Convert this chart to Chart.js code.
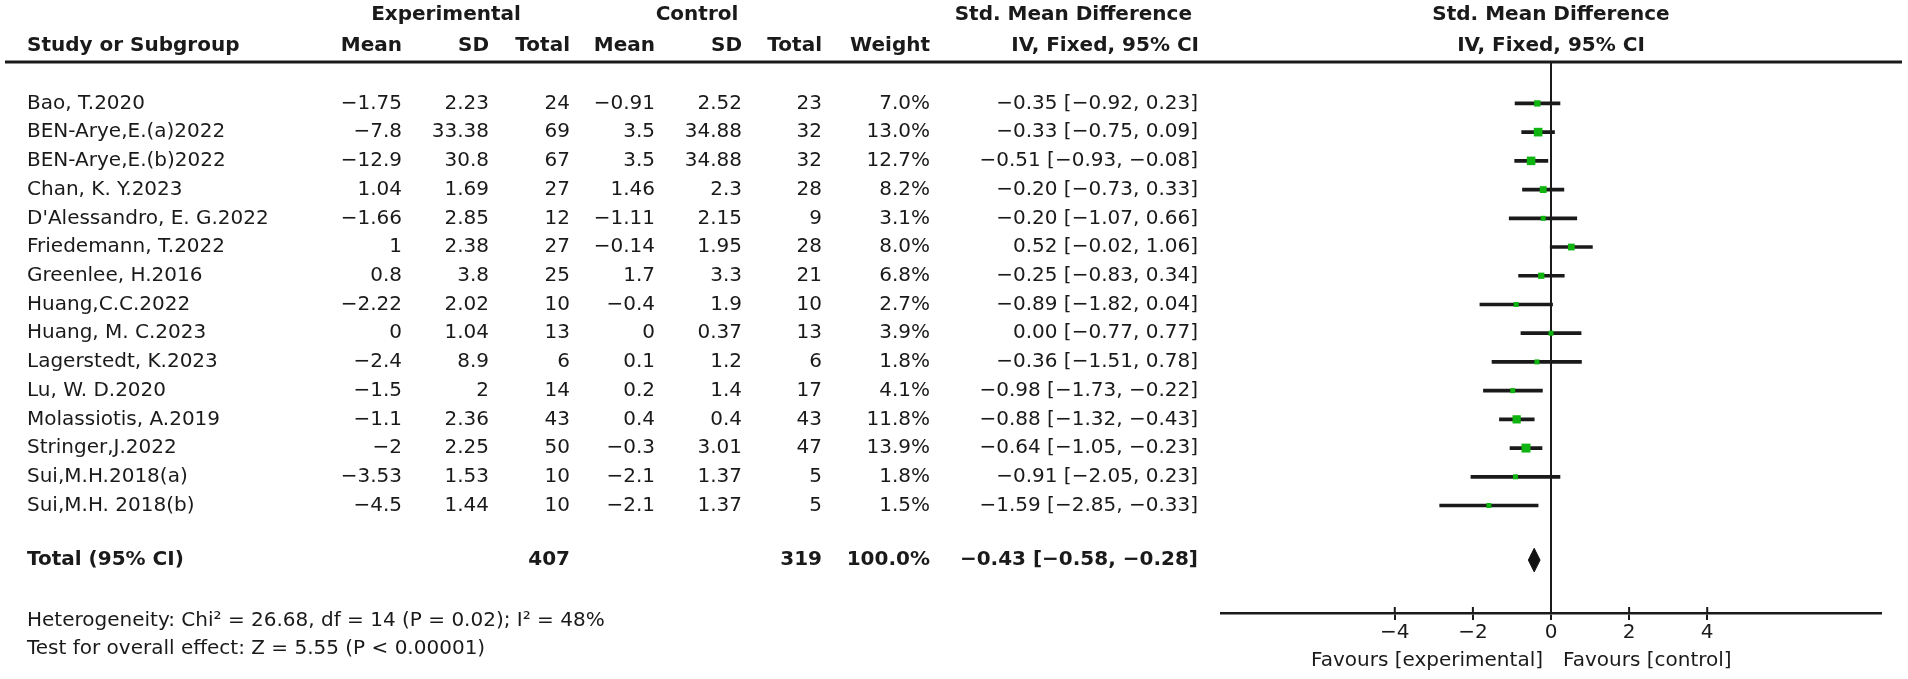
<!DOCTYPE html>
<html>
<head>
<meta charset="utf-8">
<script src="https://cdn.jsdelivr.net/npm/chart.js@4.4.1/dist/chart.umd.min.js"></script>
<style>
html,body{margin:0;padding:0;background:#fff;}
#wrap{width:1908px;height:679px;position:relative;}
</style>
</head>
<body>
<div id="wrap"><canvas id="c" width="1908" height="679"></canvas></div>
<script>
// ---- data ----
const studies = ["Bao, T.2020","BEN-Arye,E.(a)2022","BEN-Arye,E.(b)2022","Chan, K. Y.2023","D'Alessandro, E. G.2022","Friedemann, T.2022","Greenlee, H.2016","Huang,C.C.2022","Huang, M. C.2023","Lagerstedt, K.2023","Lu, W. D.2020","Molassiotis, A.2019","Stringer,J.2022","Sui,M.H.2018(a)","Sui,M.H. 2018(b)"];
const expMean = [-1.75,-7.8,-12.9,1.04,-1.66,1,0.8,-2.22,0,-2.4,-1.5,-1.1,-2,-3.53,-4.5];
const expSD   = [2.23,33.38,30.8,1.69,2.85,2.38,3.8,2.02,1.04,8.9,2,2.36,2.25,1.53,1.44];
const expN    = [24,69,67,27,12,27,25,10,13,6,14,43,50,10,10];
const ctlMean = [-0.91,3.5,3.5,1.46,-1.11,-0.14,1.7,-0.4,0,0.1,0.2,0.4,-0.3,-2.1,-2.1];
const ctlSD   = [2.52,34.88,34.88,2.3,2.15,1.95,3.3,1.9,0.37,1.2,1.4,0.4,3.01,1.37,1.37];
const ctlN    = [23,32,32,28,9,28,21,10,13,6,17,43,47,5,5];
const weights = [7.0,13.0,12.7,8.2,3.1,8.0,6.8,2.7,3.9,1.8,4.1,11.8,13.9,1.8,1.5];
const smd     = [-0.35,-0.33,-0.51,-0.20,-0.20,0.52,-0.25,-0.89,0.00,-0.36,-0.98,-0.88,-0.64,-0.91,-1.59];
const ciLow   = [-0.92,-0.75,-0.93,-0.73,-1.07,-0.02,-0.83,-1.82,-0.77,-1.51,-1.73,-1.32,-1.05,-2.05,-2.85];
const ciHigh  = [0.23,0.09,-0.08,0.33,0.66,1.06,0.34,0.04,0.77,0.78,-0.22,-0.43,-0.23,0.23,-0.33];
const totalExpN = 407;
const totalCtlN = 319;
const totalWeight = 100.0;
const totalSmd = -0.43, totalLow = -0.58, totalHigh = -0.28;
const heterogeneityText = "Heterogeneity: Chi\u00B2 = 26.68, df = 14 (P = 0.02); I\u00B2 = 48%";
const overallText = "Test for overall effect: Z = 5.55 (P < 0.00001)";
const tickValues = [-4,-2,0,2,4];
const favoursLeft = "Favours [experimental]";
const favoursRight = "Favours [control]";

// ---- layout / style ----
const TEXT = '#1a1a1a';
const GREEN = '#10b410';
const FN = '20px "DejaVu Sans"';
const FB = 'bold 20px "DejaVu Sans"';
const rowIdx = studies.map((_, i) => i);
const totalRow = 15.9;

function fmt(v){ const s = String(v); return s.replace('-', '\u2212'); }
function f2(v){ return v.toFixed(2).replace('-', '\u2212'); }
function ci(e,l,h){ return f2(e) + ' [' + f2(l) + ', ' + f2(h) + ']'; }

const cols = [
  {x:402, get:i=>fmt(expMean[i])},
  {x:489, get:i=>fmt(expSD[i])},
  {x:570, get:i=>String(expN[i])},
  {x:655, get:i=>fmt(ctlMean[i])},
  {x:742, get:i=>fmt(ctlSD[i])},
  {x:822, get:i=>String(ctlN[i])},
  {x:930, get:i=>weights[i].toFixed(1)+'%'},
  {x:1198, get:i=>ci(smd[i],ciLow[i],ciHigh[i])}
];

const tablePlugin = {
  id:'table',
  afterDraw(chart){
    const ctx = chart.ctx, ys = chart.scales.y, xs = chart.scales.x;
    ctx.save();
    ctx.fillStyle = TEXT;
    ctx.textBaseline = 'middle';
    // headers
    ctx.font = FB;
    ctx.textAlign = 'center';
    ctx.fillText('Experimental', 446, 15);
    ctx.fillText('Control', 697, 15);
    ctx.textAlign = 'right';
    ctx.fillText('Std. Mean Difference', 1192, 15);
    ctx.fillText('IV, Fixed, 95% CI', 1199, 46);
    ctx.textAlign = 'left';
    ctx.fillText('Study or Subgroup', 27, 46);
    ctx.textAlign = 'right';
    const hdr = ['Mean','SD','Total','Mean','SD','Total','Weight'];
    hdr.forEach((h,k)=>ctx.fillText(h, cols[k].x, 46));
    ctx.textAlign = 'center';
    const x0 = xs.getPixelForValue(0);
    ctx.fillText('Std. Mean Difference', x0, 15);
    ctx.fillText('IV, Fixed, 95% CI', x0, 46);
    // header rule
    ctx.strokeStyle = TEXT; ctx.lineWidth = 3;
    ctx.beginPath(); ctx.moveTo(5, chart.chartArea.top); ctx.lineTo(1902, chart.chartArea.top); ctx.stroke();
    // rows
    ctx.font = FN;
    rowIdx.forEach(i=>{
      const y = ys.getPixelForValue(i);
      ctx.textAlign = 'left';
      ctx.fillText(studies[i], 27, y);
      ctx.textAlign = 'right';
      cols.forEach(c=>ctx.fillText(c.get(i), c.x, y));
    });
    // total row
    const yt = ys.getPixelForValue(totalRow);
    ctx.font = FB;
    ctx.textAlign = 'left';
    ctx.fillText('Total (95% CI)', 27, yt);
    ctx.textAlign = 'right';
    ctx.fillText(String(totalExpN), cols[2].x, yt);
    ctx.fillText(String(totalCtlN), cols[5].x, yt);
    ctx.fillText(totalWeight.toFixed(1)+'%', cols[6].x, yt);
    ctx.fillText(ci(totalSmd,totalLow,totalHigh), cols[7].x, yt);
    ctx.font = FN;
    ctx.textAlign = 'left';
    ctx.fillText(heterogeneityText, 27, 621);
    ctx.fillText(overallText, 27, 649);
    // upper halves of ticks
    const yb = chart.chartArea.bottom;
    ctx.lineWidth = 2;
    tickValues.forEach(v=>{
      const px = xs.getPixelForValue(v);
      ctx.beginPath(); ctx.moveTo(px, yb-6); ctx.lineTo(px, yb); ctx.stroke();
    });
    // favours labels
    ctx.textAlign = 'right';
    ctx.fillText(favoursLeft, x0-8, 661);
    ctx.textAlign = 'left';
    ctx.fillText(favoursRight, x0+12, 661);
    ctx.restore();
  }
};

const diamondHalf = 0.41;
const diamond = [
  {x: totalLow, y: totalRow},
  {x: totalSmd, y: totalRow - diamondHalf},
  {x: totalHigh, y: totalRow},
  {x: totalSmd, y: totalRow + diamondHalf},
  {x: totalLow, y: totalRow}
];

new Chart(document.getElementById('c'), {
  data: {
    datasets: [
      {
        type:'bar', indexAxis:'y',
        data: rowIdx.map(i=>({x:[ciLow[i], ciHigh[i]], y:i})),
        backgroundColor: TEXT, borderWidth:0, barThickness:3,
        order: 2
      },
      {
        type:'scatter',
        data: rowIdx.map(i=>({x:smd[i], y:i})),
        pointStyle:'rect',
        pointRadius: rowIdx.map(i=>Math.max(5, 2.4*Math.sqrt(weights[i]))/Math.SQRT2),
        backgroundColor: GREEN, borderWidth:0,
        order: 1
      },
      {
        type:'scatter',
        data: diamond,
        showLine:true, fill:'shape',
        backgroundColor:'#111', borderColor:'#111', borderWidth:1,
        pointRadius:0, tension:0,
        order: 0
      }
    ]
  },
  options: {
    responsive:false, animation:false,
    events: [],
    layout: { padding: {left:1221, right:27, top:62, bottom:0} },
    plugins: { legend:{display:false}, tooltip:{enabled:false} },
    scales: {
      x: {
        type:'linear', min:-8.45, max:8.45, position:'bottom',
        afterBuildTicks: s => { s.ticks = tickValues.map(v=>({value:v})); },
        afterFit: s => { s.height = 66; },
        border: {display:true, color:TEXT, width:2.5},
        grid: {
          drawOnChartArea:true, drawTicks:true, tickLength:7, tickWidth:2, tickColor:TEXT,
          lineWidth:2,
          color: c => (c.tick && c.tick.value === 0) ? TEXT : 'rgba(0,0,0,0)'
        },
        ticks: {
          color:TEXT, padding:1, maxRotation:0, autoSkip:false,
          font:{family:'DejaVu Sans', size:20},
          callback: v => fmt(v)
        }
      },
      y: {
        type:'linear', reverse:true, min:-0.57, max:16.87, display:false
      }
    }
  },
  plugins:[tablePlugin]
});
</script>
</body>
</html>
